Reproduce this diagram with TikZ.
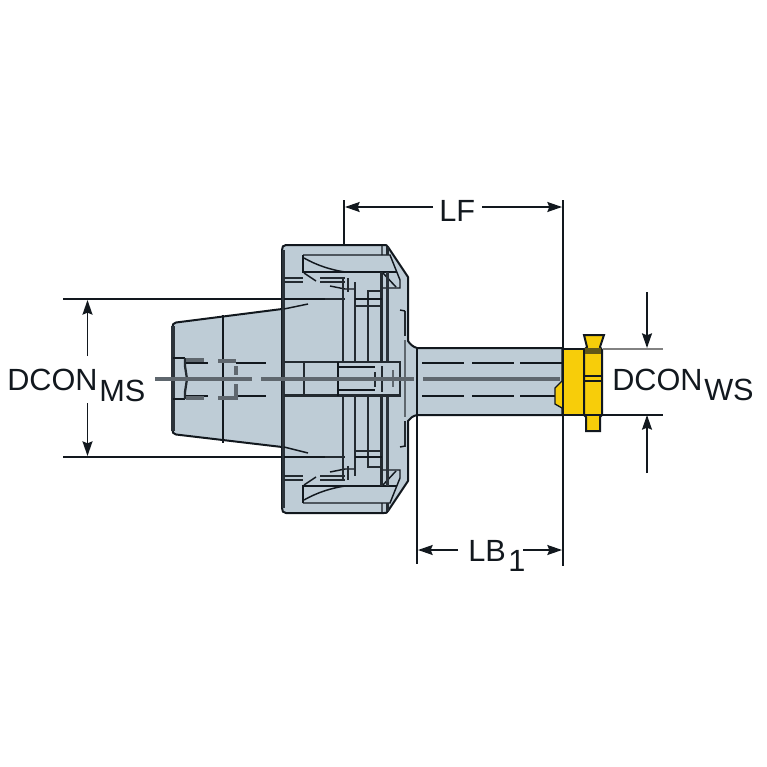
\documentclass[tikz,border=0pt]{standalone}
\usepackage{fontspec}
\setmainfont{Liberation Sans}
\usetikzlibrary{arrows.meta}
\definecolor{steel}{RGB}{190,204,214}
\definecolor{ink}{RGB}{18,24,30}
\definecolor{axisgrey}{RGB}{95,103,110}
\definecolor{insert}{RGB}{247,205,10}
\definecolor{lightdim}{RGB}{130,130,130}
\tikzset{
  body/.style={fill=steel,draw=ink,line width=1.5pt,line join=round},
  heavy/.style={draw=ink!85!steel,line width=2.6pt},
  medium/.style={draw=ink!90!steel,line width=1.7pt},
  thin/.style={draw=ink,line width=1.1pt},
  axisline/.style={draw=axisgrey,line width=2.4pt},
  dimline/.style={draw=ink,line width=1pt},
  dimarrow/.style={draw=ink,line width=1.1pt,-{Stealth[length=11pt,width=7.5pt,inset=1.5pt]}},
  label/.style={font=\fontsize{23}{24}\selectfont,text=ink,inner sep=0pt,anchor=base west}
}
\begin{document}
\begin{tikzpicture}[x=0.75pt,y=-0.75pt]
\useasboundingbox (0,0) rectangle (767,767);
% extension lines
\coordinate (lfT) at (344,200); \coordinate (lfB) at (344,245);
\coordinate (rT) at (563,200); \coordinate (rB) at (563,566);
\coordinate (lbT) at (417,415); \coordinate (lbB) at (417,564);
\draw[dimline] (lbT) -- (lbB);
\draw[dimline] (lfT) -- (lfB);
\draw[dimline] (63,299) -- (282,299);
\draw[dimline] (63,457) -- (282,457);
% taper
\draw[body] (176,322.5) -- (282,309) -- (282,447) -- (176,434.5)
  .. controls (173,434) and (172.5,432) .. (172.5,430) -- (172.5,327) .. controls (172.5,325) and (173,323) .. (176,322.5) -- cycle;
\draw[heavy] (173,326) -- (173,431);
\draw[thin] (223,315) -- (223,443);
% main body
\draw[body] (286,245) -- (384,245) .. controls (386,245) and (387,245) .. (388,247) -- (408,277) -- (408,341) .. controls (410,344) and (413,347) .. (417,348)
  -- (563,348) -- (563,415) -- (417,415) .. controls (413,416) and (410,418) .. (408,421)
  -- (408,481) -- (388,511) .. controls (387,513) and (386,513) .. (384,513) -- (286,513) .. controls (283,513) and (282,511) .. (282,508)
  -- (282,250) .. controls (282,247) and (283,245) .. (286,245) -- cycle;
\draw[heavy] (283.5,250) -- (283.5,508);
\draw[thin] (417,348) -- (417,415);
% hidden lines of the taper
\draw[thin] (173,358) -- (185,358) (173,399) -- (185,399);
\draw[medium] (185,358) -- (185,366) -- (187,379) -- (185,392) -- (185,399);
\draw[thin] (186,363) -- (208,363);
\draw[thin] (186,396) -- (208,396);
\draw[thin] (236,363) -- (266,363);
\draw[thin] (236,396) -- (266,396);
\draw[axisgrey,line width=2.4pt] (186,360) -- (204,360) (186,398) -- (204,398) (218,361) -- (236,361) (218,398) -- (236,398);
\draw[axisgrey,line width=2.4pt] (236,366) -- (236,375) (236,384) -- (236,400);
% taper edge seen through the flange
\draw[thin] (284,309) -- (308,304) (284,447) -- (308,453);
% upper recess
\draw[thin] (303,255) -- (390,255) -- (400,280) -- (400,288) -- (383,288);
\draw[thin] (303,255) -- (303,272) -- (397,272);
\draw[thin] (304,258) .. controls (318,266) and (332,270) .. (345,272);
\draw[thin] (382,246) -- (382,255) (382,272) -- (396,287);
\draw[medium] (284,278) -- (303,278) (284,282) -- (303,282);
\draw[medium] (320,278) -- (345,278) (320,282) -- (345,282);
\draw[thin] (304,273) -- (316,281) (330,286) -- (345,289) (345,289) -- (355,289);
% lower recess
\draw[thin] (303,503) -- (390,503) -- (400,478) -- (400,470) -- (383,470);
\draw[thin] (303,503) -- (303,486) -- (397,486);
\draw[thin] (304,500) .. controls (318,492) and (332,488) .. (345,486);
\draw[thin] (382,512) -- (382,503) (382,486) -- (396,471);
\draw[medium] (284,476) -- (303,476) (284,480) -- (303,480);
\draw[medium] (320,476) -- (345,476) (320,480) -- (345,480);
\draw[thin] (304,485) -- (316,477) (330,472) -- (345,469) (345,469) -- (355,469);
% flange interior, upper and lower runs
\draw[medium] (343,277) -- (343,362) (343,396) -- (343,481);
\draw[medium] (355,282) -- (355,362) (355,396) -- (355,476);
\draw[medium] (368,290) -- (368,362) (368,396) -- (368,468);
\draw[medium] (381.5,272) -- (381.5,362) (381.5,396) -- (381.5,486);
\draw[heavy] (387.5,272) -- (387.5,362) (387.5,396) -- (387.5,486);
\draw[medium] (387.5,247) -- (387.5,255) (387.5,503) -- (387.5,511);
\draw[medium] (348,278) -- (348,292) (348,466) -- (348,480);
\draw[medium] (368,291) -- (381,291) (368,467) -- (381,467);
\draw[thin] (284,299) -- (345,299) (355,299) -- (382,299);
\draw[thin] (284,457) -- (345,457) (355,457) -- (382,457);
\draw[medium] (325,299) -- (345,299) (325,457) -- (345,457);
\draw[medium] (355,306) -- (382,306) (355,451) -- (382,451);
\draw[medium] (405,311) -- (405,336) (405,421) -- (405,447);
\draw[thin] (400,310) -- (405,311) (400,447) -- (405,446);
\draw[draw=axisgrey,line width=1.3pt] (405,340) -- (405,417);
% central bore
\draw[medium] (284,362) -- (400,362) -- (400,395.5) -- (284,395.5);
\draw[medium] (304,362) -- (304,395.5);
\draw[thin] (338,362) -- (338,395.5);
\draw[thin] (338,367) -- (375,367) (338,390) -- (375,390);
\draw[medium] (375,372) -- (375,387);
\draw[medium] (382,366) -- (382,392);
\draw[axisgrey,line width=2.2pt] (393,370) -- (393,387);
% shaft hidden
\draw[thin] (422,363) -- (464,363) (472,363) -- (514,363) (520,363) -- (563,363);
\draw[thin] (422,396) -- (464,396) (472,396) -- (514,396) (520,396) -- (556,396);
% axis
\draw[axisline] (155,379) -- (252,379) (261,379) -- (414,379) (423,379) -- (560,379);
% insert
\filldraw[fill=insert,draw=ink,line width=1pt] (562,349) -- (584,349) -- (584,415) -- (562,415) -- (562,408) -- (555,404) -- (555,388) -- (562,381) -- cycle;
\filldraw[fill=insert,draw=ink,line width=1.5pt] (584,335) -- (604,335) -- (600,347) -- (602,350) -- (602,415) -- (600,417) -- (600,431) -- (586,431) -- (586,417) -- (584,415) -- (584,350) -- (587,347) -- cycle;
\fill[ink!65!insert] (585,348) rectangle (601,354);
\draw[ink,line width=1.1pt] (585,376) -- (601,376) (585,381) -- (601,381);
% dimension lines
\draw[dimline] (rT) -- (rB);
\coordinate (lfL) at (345,207); \coordinate (lfR) at (562,207);
\node[label] (LF) at (439,221) {LF};
\draw[dimarrow] (433,207) -- (lfL);
\draw[dimarrow] (482,207) -- (lfR);
\node[label] (LB) at (468,561) {LB};
\node[label] (LBs) at (508,571) {1};
\coordinate (lbL) at (418,550); \coordinate (lbR) at (562,550);
\draw[dimarrow] (458,550) -- (lbL);
\draw[dimarrow] (523,550) -- (lbR);
\coordinate (msT) at (87.5,300); \coordinate (msB) at (87.5,456);
\node[label] (DM) at (7,390) {DCON};
\node[label] (DMs) at (99,401) {MS};
\draw[dimarrow] (87.5,356) -- (msT);
\draw[dimarrow] (87.5,403) -- (msB);
\node[label] (DW) at (612,390) {DCON};
\node[label] (DWs) at (704,400) {WS};
\coordinate (wsA) at (647,348); \coordinate (wsB) at (647,415);
\draw[dimarrow] (647,292) -- (wsA);
\draw[dimarrow] (647,473) -- (wsB);
\draw[lightdim,line width=1.5pt] (603,349) -- (663,349);
\draw[dimline] (562,349) -- (584,349);
\draw[dimline] (562,415) -- (663,415);
\end{tikzpicture}
\end{document}
